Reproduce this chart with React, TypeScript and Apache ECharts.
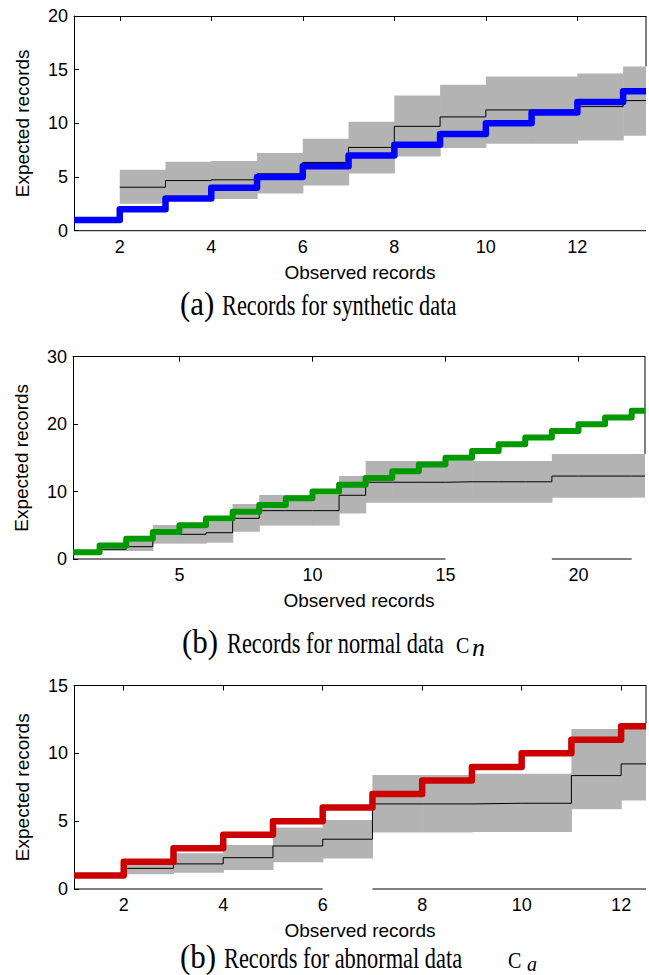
import React, { useEffect, useRef } from "react";
import * as echarts from "echarts";

// ---------------- Panel A : synthetic data ----------------
const recordsA = [1, 2, 3, 4, 5, 6, 7, 8, 9, 10, 11, 12, 13];
const xEndA = 13.5;
const bandStartsA = [2, 3, 4, 5, 6, 7, 8, 9, 10, 11, 12, 13];
const meanA = [4.05, 4.67, 4.74, 5.3, 6.36, 7.76, 9.72, 10.6, 11.25, 11.25, 11.56, 12.12];
const upperA = [5.67, 6.42, 6.5, 7.23, 8.57, 10.16, 12.6, 13.6, 14.37, 14.37, 14.65, 15.3];
const lowerA = [2.5, 3.0, 2.96, 3.46, 4.2, 5.33, 6.92, 7.7, 8.1, 8.1, 8.41, 8.85];
const xTicksA = [2, 4, 6, 8, 10, 12];
const yMaxA = 20;
const yStepA = 5;
const bottomSegsA = [[1, 13.5]];
const rightFromA = 15.3;

// ---------------- Panel B : normal data ----------------
const recordsB = [1, 2, 3, 4, 5, 6, 7, 8, 9, 10, 11, 12, 13, 14, 15, 16, 17, 18, 19, 20, 21, 22];
const xEndB = 22.5;
const bandStartsB = [2, 3, 4, 5, 6, 7, 8, 9, 10, 11, 12, 13, 14, 15, 16, 17, 18, 19, 20, 21, 22];
const meanB = [1.44, 1.83, 3.66, 3.66, 3.9, 6.03, 7.17, 7.17, 7.17, 9.45, 11.38, 11.38, 11.38, 11.45, 11.45, 11.45, 11.45, 12.3, 12.3, 12.3, 12.3];
const upperB = [2.0, 2.6, 5.04, 5.04, 5.5, 8.16, 9.5, 9.5, 9.5, 12.3, 14.54, 14.54, 14.54, 14.54, 14.54, 14.54, 14.54, 15.58, 15.58, 15.58, 15.58];
const lowerB = [1.19, 1.2, 2.28, 2.28, 2.42, 4.05, 4.95, 4.95, 4.95, 6.75, 8.36, 8.36, 8.36, 8.36, 8.36, 8.36, 8.36, 9.1, 9.1, 9.1, 9.1];
const xTicksB = [5, 10, 15, 20];
const yMaxB = 30;
const yStepB = 10;
const bottomSegsB = [[1, 15], [19, 22]];
const rightFromB = 15.58;

// ---------------- Panel C : abnormal data ----------------
const recordsC = [1, 2, 3, 4, 5, 6, 7, 8, 9, 10, 11, 12];
const xEndC = 12.5;
const bandStartsC = [2, 3, 4, 5, 6, 7, 8, 9, 10, 11, 12];
const meanC = [1.52, 1.85, 2.31, 3.17, 3.67, 6.27, 6.27, 6.32, 6.32, 8.36, 9.22];
const upperC = [1.8, 2.63, 3.25, 4.53, 5.09, 8.41, 8.41, 8.49, 8.49, 11.8, 11.8];
const lowerC = [1.08, 1.2, 1.4, 1.97, 2.24, 4.16, 4.16, 4.2, 4.2, 5.88, 6.52];
const xTicksC = [2, 4, 6, 8, 10, 12];
const yMaxC = 15;
const yStepC = 5;
const bottomSegsC = [[1, 6], [7, 12.5]];
const rightFromC = 12.2;

const xName = "Observed records";
const yName = "Expected records";

const SANS = "Liberation Sans, Arial, Helvetica, sans-serif";
const SERIF = "Liberation Serif, Times New Roman, serif";

type Panel = {
  records: number[];
  xEnd: number;
  starts: number[];
  mean: number[];
  upper: number[];
  lower: number[];
  xTicks: number[];
  yMax: number;
  yStep: number;
  segs: number[][];
  rightFrom: number;
  color: string;
  lw: number;
  grid: { left: number; top: number; width: number; height: number };
};

const panels: Panel[] = [
  {
    records: recordsA, xEnd: xEndA, starts: bandStartsA, mean: meanA, upper: upperA, lower: lowerA,
    xTicks: xTicksA, yMax: yMaxA, yStep: yStepA, segs: bottomSegsA, rightFrom: rightFromA,
    color: "#0000ff", lw: 6.5, grid: { left: 74, top: 16, width: 572, height: 214.7 },
  },
  {
    records: recordsB, xEnd: xEndB, starts: bandStartsB, mean: meanB, upper: upperB, lower: lowerB,
    xTicks: xTicksB, yMax: yMaxB, yStep: yStepB, segs: bottomSegsB, rightFrom: rightFromB,
    color: "#009900", lw: 6, grid: { left: 73, top: 356.7, width: 572, height: 202.3 },
  },
  {
    records: recordsC, xEnd: xEndC, starts: bandStartsC, mean: meanC, upper: upperC, lower: lowerC,
    xTicks: xTicksC, yMax: yMaxC, yStep: yStepC, segs: bottomSegsC, rightFrom: rightFromC,
    color: "#cc0000", lw: 6.5, grid: { left: 74, top: 685.5, width: 572, height: 203.5 },
  },
];

function caption(x: number, baseline: number, text: string, fs: number, sy: number, italic = false) {
  return {
    type: "group",
    x,
    y: baseline - 0.34 * fs * sy,
    scaleY: sy,
    children: [
      {
        type: "text",
        x: 0,
        y: 0,
        style: {
          text,
          fontFamily: SERIF,
          fontSize: fs,
          fontStyle: italic ? "italic" : "normal",
          fill: "#000",
          align: "left",
          verticalAlign: "middle",
        },
      },
    ],
  };
}

function buildOption() {
  const grids: any[] = [];
  const xAxes: any[] = [];
  const yAxes: any[] = [];
  const series: any[] = [];

  panels.forEach((p, i) => {
    grids.push({ ...p.grid, containLabel: false });
    const xmin = p.records[0];
    xAxes.push({
      type: "value", gridIndex: i, position: "bottom", min: xmin, max: p.xEnd,
      axisLine: { show: false }, axisTick: { show: false }, splitLine: { show: false },
      axisLabel: { customValues: p.xTicks, margin: 7, fontSize: 18, color: "#000", fontFamily: SANS },
      name: xName, nameLocation: "middle", nameGap: 32,
      nameTextStyle: { fontSize: 19, color: "#000", fontFamily: SANS },
    });
    xAxes.push({
      type: "value", gridIndex: i, position: "top", min: xmin, max: p.xEnd,
      axisLine: { show: true, lineStyle: { color: "#000", width: 1 } },
      axisTick: { show: true, inside: true, length: 5, customValues: p.xTicks, lineStyle: { color: "#000" } },
      axisLabel: { show: false }, splitLine: { show: false },
    });
    yAxes.push({
      type: "value", gridIndex: i, position: "left", min: 0, max: p.yMax, interval: p.yStep,
      axisLine: { show: true, lineStyle: { color: "#000", width: 1 } },
      axisTick: { show: true, inside: true, length: 5, lineStyle: { color: "#000" } },
      splitLine: { show: false },
      axisLabel: { margin: 6, fontSize: 18, color: "#000", fontFamily: SANS },
      name: yName, nameLocation: "middle", nameGap: 42, nameRotate: 90,
      nameTextStyle: { fontSize: 19, color: "#000", fontFamily: SANS },
    });

    const xi = i * 2;
    const bandData = p.starts.map((s, k) => [
      s,
      k + 1 < p.starts.length ? p.starts[k + 1] : p.xEnd,
      p.lower[k],
      p.upper[k],
    ]);
    series.push({
      type: "custom", xAxisIndex: xi, yAxisIndex: i, z: 2, silent: true,
      encode: { x: [0, 1], y: [2, 3] },
      data: bandData,
      renderItem: (params: any, api: any) => {
        const p0 = api.coord([api.value(0), api.value(3)]);
        const p1 = api.coord([api.value(1), api.value(2)]);
        const isLast = params.dataIndex === bandData.length - 1;
        return {
          type: "rect",
          shape: { x: p0[0], y: p0[1], width: p1[0] - p0[0] + (isLast ? 0 : 0.6), height: p1[1] - p0[1] },
          style: { fill: "#b3b3b3" },
        };
      },
    });

    const meanData = p.starts.map((s, k) => [s, p.mean[k]]);
    meanData.push([p.xEnd, p.mean[p.mean.length - 1]]);
    series.push({
      type: "line", xAxisIndex: xi, yAxisIndex: i, z: 3, silent: true, step: "end",
      symbol: "none", data: meanData, lineStyle: { color: "#000", width: 1 },
    });

    const recData = p.records.map((v) => [v, v]);
    recData.push([p.xEnd, p.records[p.records.length - 1]]);
    series.push({
      type: "line", xAxisIndex: xi, yAxisIndex: i, z: 4, silent: true, step: "end",
      symbol: "none", data: recData,
      lineStyle: { color: p.color, width: p.lw, cap: "butt", join: "round" },
    });

    p.segs.forEach((sg) => {
      series.push({
        type: "line", xAxisIndex: xi, yAxisIndex: i, z: 1, silent: true, clip: false,
        symbol: "none", data: [[sg[0], 0], [sg[1], 0]], lineStyle: { color: "#000", width: 1 },
      });
    });
    series.push({
      type: "line", xAxisIndex: xi, yAxisIndex: i, z: 1, silent: true, clip: false,
      symbol: "none", data: [[p.xEnd, p.rightFrom], [p.xEnd, p.yMax]], lineStyle: { color: "#000", width: 1 },
    });
  });

  const graphic = [
    caption(180, 315, "(a)", 31, 1.1),
    caption(222, 315, "Records for synthetic data", 22.4, 1.3),
    caption(182, 653, "(b)", 31, 1.1),
    caption(227, 653, "Records for normal data", 22.4, 1.3),
    caption(456, 653, "C", 20, 1.2),
    caption(472, 656, "n", 26, 1.0, true),
    caption(180, 968, "(b)", 31, 1.1),
    caption(224, 968, "Records for abnormal data", 22.4, 1.3),
    caption(508, 968, "C", 20, 1.2),
    caption(527, 971, "a", 20, 1.0, true),
  ];

  return {
    animation: false,
    backgroundColor: "#ffffff",
    grid: grids,
    xAxis: xAxes,
    yAxis: yAxes,
    series,
    graphic,
  };
}

export default function App() {
  const ref = useRef<HTMLDivElement>(null);
  useEffect(() => {
    if (!ref.current) return;
    const chart = echarts.init(ref.current, undefined, { renderer: "svg" });
    chart.setOption(buildOption() as any);
    return () => chart.dispose();
  }, []);
  return (
    <div
      ref={ref}
      style={{ position: "absolute", left: 0, top: 0, width: 649, height: 975, background: "#fff" }}
    />
  );
}
